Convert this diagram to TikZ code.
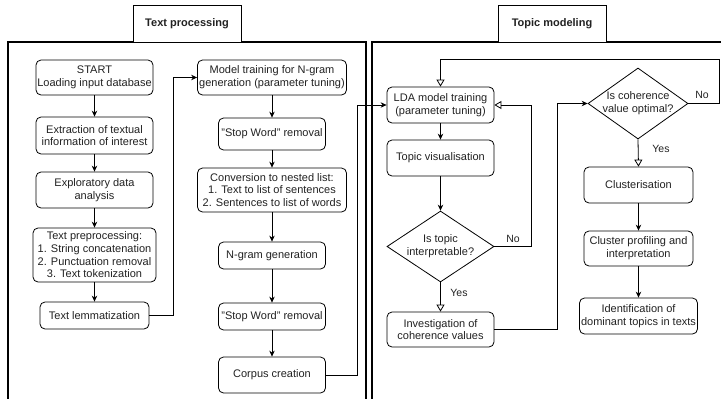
\documentclass[tikz,border=0pt]{standalone}
\usepackage{fontspec}
\setmainfont{Liberation Sans}
\usetikzlibrary{shapes.geometric,arrows.meta}
\definecolor{txt}{HTML}{222222}
\tikzset{
  box/.style={draw=black, line width=0.8pt, rounded corners=5pt, fill=white, align=center,
    inner sep=0pt, font=\fontsize{11}{12.7}\selectfont, text=txt},
  dia/.style={draw=black, line width=0.8pt, shape=diamond, inner sep=0pt, fill=white},
  dtext/.style={align=center, font=\fontsize{11}{12.7}\selectfont, text=txt},
  conn/.style={draw=black, line width=0.8pt, -{Stealth[length=6pt,width=5.5pt]}},
  oconn/.style={draw=black, line width=0.8pt, -{Triangle[open,length=7pt,width=8pt]}},
  lbl/.style={font=\fontsize{10.5}{12}\selectfont, text=txt},
  frame/.style={draw=black, line width=2pt},
  tab/.style={draw=black, line width=0.9pt, fill=white, font=\bfseries\fontsize{11}{13}\selectfont, text=txt}
}
\begin{document}
\begin{tikzpicture}[x=1pt,y=-1pt]
\clip (0,0) rectangle (721,399);
\fill[white] (0,0) rectangle (721,399);
% frames
\draw[frame] (7.5,42) rectangle (366,420);
\draw[frame] (372,42) rectangle (740,420);
\node[tab, minimum width=108pt, minimum height=37pt] (tab1) at (187,23.5) {Text processing};
\node[tab, minimum width=108pt, minimum height=37pt] (tab2) at (552,23.5) {Topic modeling};
% left column
\node[box, minimum width=117pt, minimum height=35pt] (start) at (94.5,77.5) {START\\Loading input database};
\node[box, minimum width=117pt, minimum height=37pt] (extract) at (94.5,135.5) {Extraction of textual\\information of interest};
\node[box, minimum width=117pt, minimum height=36pt] (explor) at (94.5,190) {Exploratory data\\analysis};
\node[box, minimum width=123pt, minimum height=54pt] (preproc) at (94.5,255) {Text preprocessing:\\1. String concatenation\\2. Punctuation removal\\3. Text tokenization};
\node[box, minimum width=109pt, minimum height=27pt] (lemma) at (94.5,315.5) {Text lemmatization};
% middle column
\node[box, minimum width=149pt, minimum height=35pt] (model) at (272,77.5) {Model training for N-gram\\generation (parameter tuning)};
\node[box, minimum width=107pt, minimum height=32pt] (stop1) at (272,134) {"Stop Word" removal};
\node[box, minimum width=149pt, minimum height=44pt] (conv) at (272,190) {Conversion to nested list:\\1. Text to list of sentences\\2. Sentences to list of words};
\node[box, minimum width=107pt, minimum height=27pt] (ngram) at (272,255.5) {N-gram generation};
\node[box, minimum width=107pt, minimum height=27pt] (stop2) at (272,316.5) {"Stop Word" removal};
\node[box, minimum width=107pt, minimum height=36pt] (corpus) at (272,375) {Corpus creation};
% right frame, column 1
\node[box, minimum width=107pt, minimum height=36pt] (lda) at (440.5,105) {LDA model training\\(parameter tuning)};
\node[box, minimum width=107pt, minimum height=36pt] (topvis) at (440.5,158) {Topic visualisation};
\node[dia, minimum width=107pt, minimum height=71pt] (dia1) at (440.5,246.5) {};
\node[dtext] at (dia1.center) {Is topic\\interpretable?};
\node[box, minimum width=107pt, minimum height=35pt] (invest) at (440.5,329.5) {Investigation of\\coherence values};
% right frame, column 2
\node[dia, minimum width=100pt, minimum height=71pt] (dia2) at (638,103.5) {};
\node[dtext] at (dia2.center) {Is coherence\\value optimal?};
\node[box, minimum width=109pt, minimum height=36pt] (clust) at (638.5,185) {Clusterisation};
\node[box, minimum width=109pt, minimum height=35pt] (prof) at (638.5,248.5) {Cluster profiling and\\interpretation};
\node[box, minimum width=118pt, minimum height=36pt] (ident) at (638.5,316) {Identification of\\dominant topics in texts};
% connectors
\draw[conn] (start) -- (extract);
\draw[conn] (extract) -- (explor);
\draw[conn] (explor) -- (preproc);
\draw[conn] (preproc) -- (lemma);
\draw[conn] (lemma.east) -- ++(24,0) |- (model.west);
\draw[conn] (model) -- (stop1);
\draw[conn] (stop1) -- (conv);
\draw[conn] (conv) -- (ngram);
\draw[conn] (ngram) -- (stop2);
\draw[conn] (stop2) -- (corpus);
\draw[conn] (corpus.east) -- ++(31,0) |- (lda.west);
\draw[conn] (lda) -- (topvis);
\draw[conn] (topvis) -- (dia1.north);
\draw[oconn] (dia1.south) -- (invest.north);
\draw[oconn] (dia1.east) -- ++(37,0) |- (lda.east);
\draw[conn] (invest.east) -- ++(63,0) |- (dia2.west);
\coordinate (c1) at (719,59);
\draw[oconn] (dia2.east) -| (c1) -| (lda.north);
\draw[oconn] (dia2.south) -- (clust.north);
\draw[conn] (clust) -- (prof);
\draw[conn] (prof) -- (ident);
% labels
\node[lbl] (no1) at (513,239) {No};
\node[lbl] (yes1) at (459,293) {Yes};
\node[lbl] (no2) at (702,95) {No};
\node[lbl] (yes2) at (661,149) {Yes};
\end{tikzpicture}
\end{document}
